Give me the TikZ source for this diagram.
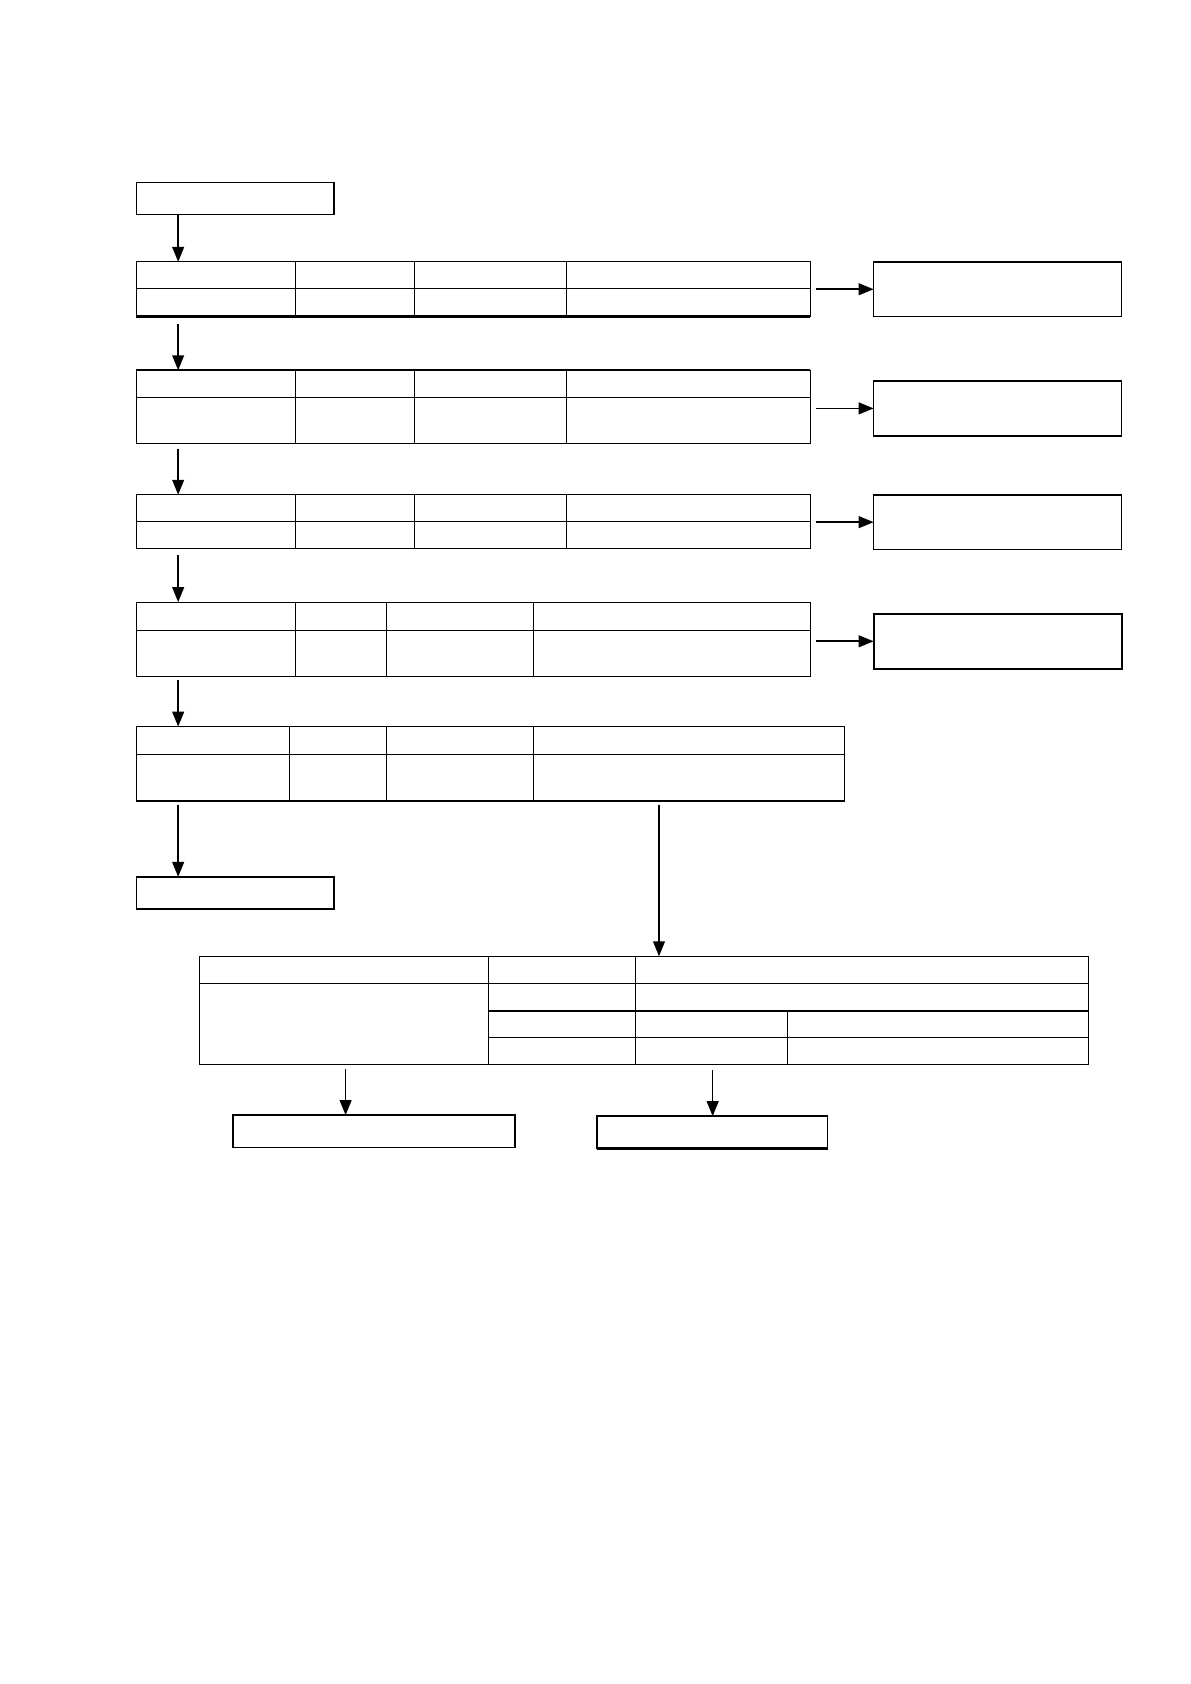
\documentclass[tikz,border=0pt]{standalone}
\usetikzlibrary{arrows.meta,calc}
\begin{document}
\begin{tikzpicture}[x=1pt,y=-1pt,
  box/.style={draw,line width=1.4pt,rectangle,anchor=north west,inner sep=0pt,outer sep=0pt},
  tbl/.style={draw,line width=1.1pt,rectangle,anchor=north west,inner sep=0pt,outer sep=0pt},
  thin/.style={line width=0.8pt},
  thick/.style={line width=2.2pt},
  arr/.style={line width=1.5pt,-{Triangle[length=14pt,width=11pt]}}]
\useasboundingbox (0,0) rectangle (1109.6,1569);
% top box
\node[box,minimum width=184pt,minimum height=30pt] (top) at (127,170) {};
% table 1
\node[tbl,minimum width=628pt,minimum height=51pt] (t1) at (127,244) {};
\draw[thin] (127,269) -- (755,269);
\foreach \c in {275,386,528} \draw[thin] (\c,244) -- (\c,295);
\draw[thick] (t1.south west) -- (t1.south east);
\node[box,minimum width=231pt,minimum height=51pt] (r1) at (814,244) {};
% table 2
\node[tbl,minimum width=628pt,minimum height=68pt] (t2) at (127,345) {};
\draw[thin] (127,370) -- (755,370);
\foreach \c in {275,386,528} \draw[thin] (\c,345) -- (\c,413);
\draw[thick] (t2.north west) -- (t2.north east);
\node[box,minimum width=231pt,minimum height=51pt] (r2) at (814,355) {};
% table 3
\node[tbl,minimum width=628pt,minimum height=50pt] (t3) at (127,461) {};
\draw[thin] (127,486) -- (755,486);
\foreach \c in {275,386,528} \draw[thin] (\c,461) -- (\c,511);
\node[box,minimum width=231pt,minimum height=51pt] (r3) at (814,461) {};
% table 4
\node[tbl,minimum width=628pt,minimum height=69pt] (t4) at (127,561) {};
\draw[thin] (127,587) -- (755,587);
\foreach \c in {275,360,497} \draw[thin] (\c,561) -- (\c,630);
\node[box,line width=1.8pt,minimum width=231pt,minimum height=51pt] (r4) at (814,572) {};
% table 5
\node[tbl,minimum width=660pt,minimum height=69pt] (t5) at (127,677) {};
\draw[thin] (127,703) -- (787,703);
\foreach \c in {270,360,497} \draw[thin] (\c,677) -- (\c,746);
\draw[thick] (t5.south west) -- (t5.south east);
% box below table 5
\node[box,minimum width=184pt,minimum height=30pt] (b5) at (127,817) {};
% table 6
\node[tbl,minimum width=828pt,minimum height=101pt] (t6) at (186,891) {};
\draw[thin] (186,916) -- (1014,916);
\draw[thick] (455,942) -- (1014,942);
\draw[thin] (455,967) -- (1014,967);
\draw[thin] (455,891) -- (455,992);
\draw[thin] (592,891) -- (592,992);
\draw[thin] (734,942) -- (734,992);
% bottom boxes
\node[box,minimum width=263pt,minimum height=30pt] (bl) at (217,1039) {};
\draw[thick] (bl.north west) -- (bl.north east);
\node[box,minimum width=215pt,minimum height=30pt] (br) at (556,1040) {};
\draw[thick] (br.south west) -- (br.south east);
% vertical arrows
\draw[arr] ([xshift=39pt]top.south west) -- ([xshift=39pt]t1.north west);
\draw[arr,shorten <=7pt] ([xshift=39pt]t1.south west) -- ([xshift=39pt]t2.north west);
\draw[arr,shorten <=5pt] ([xshift=39pt]t2.south west) -- ([xshift=39pt]t3.north west);
\draw[arr,shorten <=6pt] ([xshift=39pt]t3.south west) -- ([xshift=39pt]t4.north west);
\draw[arr,shorten <=4pt] ([xshift=39pt]t4.south west) -- ([xshift=39pt]t5.north west);
\draw[arr,shorten <=4pt] ([xshift=39pt]t5.south west) -- ([xshift=39pt]b5.north west);
\draw[arr,shorten <=4pt] ([xshift=487pt]t5.south west) -- ([xshift=428pt]t6.north west);
\draw[arr,shorten <=4pt] ([xshift=136pt]t6.south west) -- ([xshift=105pt]bl.north west);
\draw[arr,shorten <=5pt] ([xshift=478pt]t6.south west) -- ([xshift=108pt]br.north west);
% horizontal arrows
\draw[arr,shorten <=5pt] (r1.west -| t1.east) -- (r1.west);
\draw[arr,shorten <=5pt] (r2.west -| t2.east) -- (r2.west);
\draw[arr,shorten <=5pt] (r3.west -| t3.east) -- (r3.west);
\draw[arr,shorten <=5pt] (r4.west -| t4.east) -- (r4.west);
\end{tikzpicture}
\end{document}
